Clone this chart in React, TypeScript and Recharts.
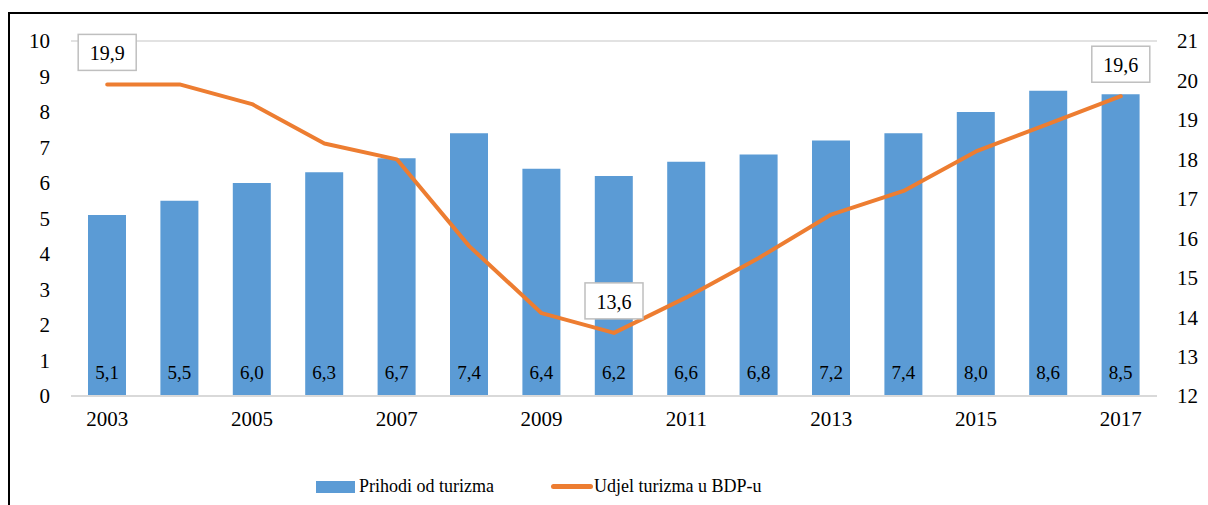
import {
  ComposedChart,
  Bar,
  Line,
  XAxis,
  YAxis,
  CartesianGrid,
  LabelList,
} from "recharts";

const years = ["2003", "2004", "2005", "2006", "2007", "2008", "2009", "2010", "2011", "2012", "2013", "2014", "2015", "2016", "2017"];
const prihodi = [5.1, 5.5, 6.0, 6.3, 6.7, 7.4, 6.4, 6.2, 6.6, 6.8, 7.2, 7.4, 8.0, 8.6, 8.5];
const udjel = [19.9, 19.9, 19.4, 18.4, 18.0, 15.8, 14.1, 13.6, 14.5, 15.5, 16.6, 17.2, 18.2, 18.9, 19.6];
const labelledYears = ["2003", "2010", "2017"];
const leftTicks = [0, 1, 2, 3, 4, 5, 6, 7, 8, 9, 10];
const rightTicks = [12, 13, 14, 15, 16, 17, 18, 19, 20, 21];

const data = years.map((year, i) => ({ year, prihodi: prihodi[i], udjel: udjel[i] }));

const FONT = "'Liberation Serif', 'Times New Roman', 'DejaVu Serif', serif";
const BLUE = "#5b9bd5";
const ORANGE = "#ed7d31";
const fmt = (v: number) => Number(v).toFixed(1).replace(".", ",");

const tickStyle = { fontSize: 21, fill: "#000", fontFamily: FONT };

function BarValue(props: any) {
  const { x, y, width, height, value } = props;
  return (
    <text
      x={x + width / 2}
      y={y + height - 24}
      textAnchor="middle"
      dominantBaseline="central"
      fontSize={19}
      style={{ fontFamily: FONT }}
      fill="#000"
    >
      {fmt(value)}
    </text>
  );
}

function LineValue(props: any) {
  const { x, y, value, index } = props;
  if (!labelledYears.includes(years[index])) return null;
  const w = 58;
  const h = 36;
  const cy = y - 32;
  return (
    <g>
      <rect x={x - w / 2} y={cy - h / 2} width={w} height={h} fill="#fff" stroke="#bfbfbf" strokeWidth={1.5} />
      <text x={x} y={cy + 1} textAnchor="middle" dominantBaseline="central" fontSize={20} style={{ fontFamily: FONT }} fill="#000">
        {fmt(value)}
      </text>
    </g>
  );
}

export default function App() {
  return (
    <div
      style={{
        position: "fixed",
        left: 0,
        top: 0,
        width: 1208,
        height: 505,
        overflow: "hidden",
        background: "#fff",
        fontFamily: FONT,
      }}
    >
      <div
        style={{
          position: "absolute",
          left: 8,
          top: 12,
          width: 1400,
          height: 700,
          borderTop: "2px solid #000",
          borderLeft: "2px solid #000",
        }}
      />
      <div style={{ position: "absolute", left: 0, top: 0 }}>
        <ComposedChart
          width={1208}
          height={505}
          data={data}
          margin={{ top: 41, right: 0, left: 0, bottom: 79 }}
          style={{ fontFamily: FONT }}
        >
          <CartesianGrid vertical={false} stroke="#d9d9d9" strokeWidth={1.5} />
          <XAxis
            dataKey="year"
            interval={1}
            tickLine={false}
            axisLine={{ stroke: "#d9d9d9", strokeWidth: 2 }}
            tickSize={0}
            tickMargin={15}
            height={30}
            tick={tickStyle}
          />
          <YAxis
            yAxisId="left"
            domain={[0, 10]}
            ticks={leftTicks}
            width={71}
            axisLine={false}
            tickLine={false}
            tickSize={0}
            tickMargin={21}
            tick={tickStyle}
          />
          <YAxis
            yAxisId="right"
            orientation="right"
            domain={[12, 21]}
            ticks={rightTicks}
            width={51}
            axisLine={false}
            tickLine={false}
            tickSize={0}
            tickMargin={20}
            tick={tickStyle}
          />
          <Bar yAxisId="left" dataKey="prihodi" fill={BLUE} barSize={38} isAnimationActive={false}>
            <LabelList dataKey="prihodi" content={BarValue} />
          </Bar>
          <Line
            yAxisId="right"
            dataKey="udjel"
            type="linear"
            stroke={ORANGE}
            strokeWidth={4}
            strokeLinecap="round"
            strokeLinejoin="round"
            dot={false}
            isAnimationActive={false}
          >
            <LabelList dataKey="udjel" content={LineValue} />
          </Line>
        </ComposedChart>
      </div>
      <div
        style={{
          position: "absolute",
          top: 476,
          left: 316,
          display: "flex",
          alignItems: "center",
          fontSize: 18,
          color: "#000",
          whiteSpace: "nowrap",
        }}
      >
        <span style={{ display: "inline-block", width: 39, height: 12, background: BLUE, marginRight: 4 }} />
        <span>Prihodi od turizma</span>
        <span
          style={{ display: "inline-block", width: 42, height: 5, borderRadius: 3, background: ORANGE, marginLeft: 57, marginRight: 1 }}
        />
        <span>Udjel turizma u BDP-u</span>
      </div>
    </div>
  );
}
